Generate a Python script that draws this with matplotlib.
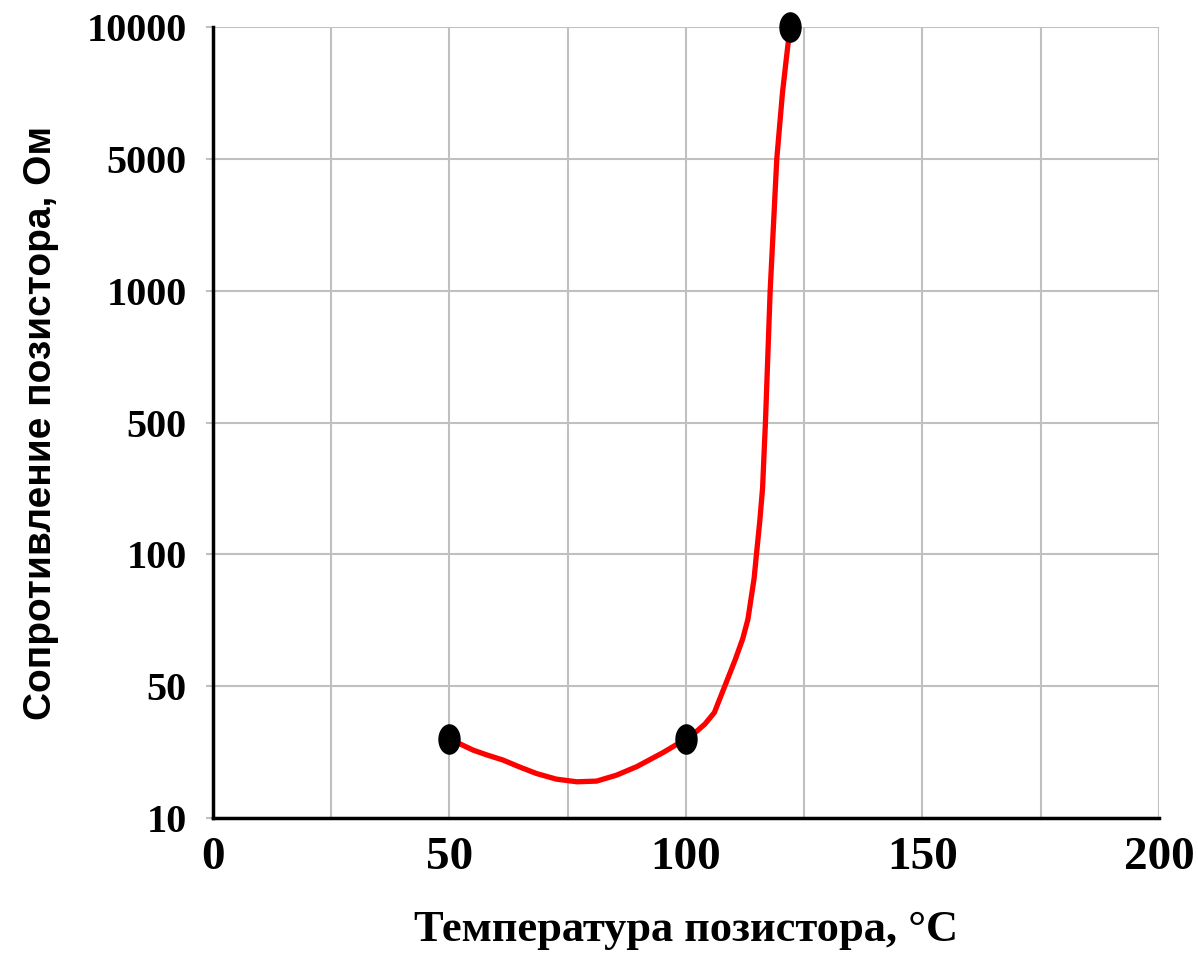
import numpy as np
import matplotlib.pyplot as plt
from matplotlib.path import Path
from matplotlib.transforms import Affine2D

# y axis of the original chart: equally spaced, non-uniform steps
y_ticks = [10, 50, 100, 500, 1000, 5000, 10000]
y_pos = np.arange(len(y_ticks))

# measured points (markers)
t_points = [50, 100, 122]
r_points = [34, 34, 10000]

# smooth curve
t_curve = [50, 52.5, 55, 58, 61.3, 64.8, 68.4, 72.6, 76.9, 81.1, 85.3, 89.6,
           95.2, 100, 102, 104, 106, 108.2, 110.4, 112, 113.1, 114.4, 114.9,
           115.6, 116.2, 116.5, 116.8, 117.3, 117.8, 118.5, 119.2, 120.4,
           121.2, 122]
r_curve = [34, 32.3, 30.6, 29.1, 27.6, 25.5, 23.5, 21.8, 21, 21.2, 23, 25.6,
           29.9, 34, 36, 38.5, 42, 50, 60, 68, 75.4, 90.8, 100,
           200, 302, 403, 500, 750, 1000, 3000, 5000, 7500,
           8770, 10000]


def forward(v):
    return np.interp(v, y_ticks, y_pos)


def inverse(p):
    return np.interp(p, y_pos, y_ticks)


fig = plt.figure(figsize=(11.98, 9.69), dpi=100)
ax = fig.add_axes([0.1778, 0.1558, 0.9674 - 0.1778, 0.9721 - 0.1558])
ax.set_yscale('function', functions=(forward, inverse))

ax.set_xlim(0, 200)
ax.set_ylim(10, 10000)
ax.set_xticks(np.arange(0, 201, 25))
ax.set_xticklabels(['0', '', '50', '', '100', '', '150', '', '200'])
ax.set_yticks(y_ticks)
ax.set_yticklabels([str(v) for v in y_ticks])
ax.minorticks_off()

ax.grid(True, color='#c0c0c0', linewidth=1.5)
ax.set_axisbelow(True)
for s in ['top', 'right']:
    ax.spines[s].set_visible(False)
for s in ['left', 'bottom']:
    ax.spines[s].set_linewidth(2.5)
    ax.spines[s].set_color('black')

ax.tick_params(axis='y', length=5, color='#c0c0c0', width=1.5, pad=14)
ax.tick_params(axis='x', length=0, pad=14)
for lab in ax.get_yticklabels():
    lab.set_fontfamily('Liberation Serif')
    lab.set_fontweight('bold')
    lab.set_fontsize(29)
for lab in ax.get_xticklabels():
    lab.set_fontfamily('Liberation Serif')
    lab.set_fontweight('bold')
    lab.set_fontsize(34)

ax.plot(t_curve, r_curve, color='red', linewidth=3.8, solid_capstyle='round',
        solid_joinstyle='round', zorder=3, clip_on=False)

ellipse = Path.unit_circle().transformed(Affine2D().scale(0.72, 1.0))
ax.plot(t_points, r_points, linestyle='none', marker=ellipse, markersize=21,
        color='black', zorder=4, clip_on=False)

ax.set_xlabel('Температура позистора, °C', fontfamily='Liberation Serif',
              fontweight='bold', fontsize=32, labelpad=22)
ax.set_ylabel('Сопротивление позистора, Ом', fontfamily='Liberation Sans',
              fontweight='bold', fontsize=28, labelpad=20)

fig.savefig('out.png', dpi=100)
